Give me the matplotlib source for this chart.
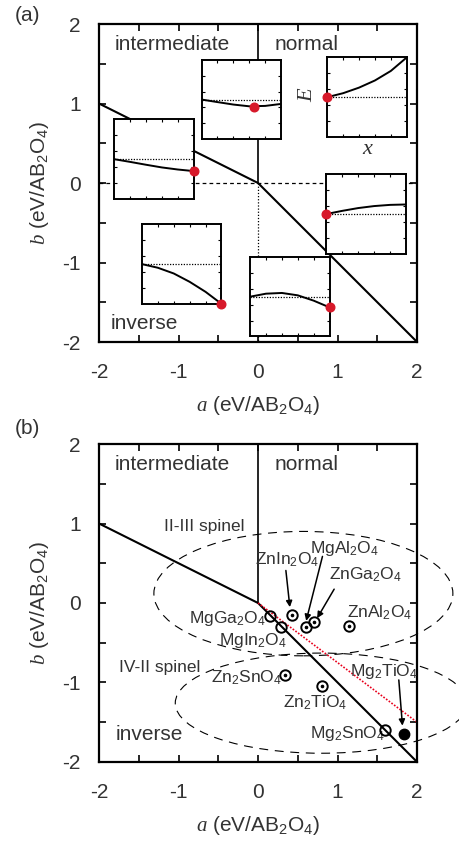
import matplotlib
matplotlib.use("Agg")
import matplotlib.pyplot as plt
from matplotlib.patches import Ellipse
from matplotlib.ticker import MultipleLocator

plt.rcParams['font.family'] = ['Liberation Sans', 'DejaVu Sans']
plt.rcParams['mathtext.fontset'] = 'custom'
plt.rcParams['mathtext.rm'] = 'Liberation Sans'
plt.rcParams['mathtext.it'] = 'Liberation Serif:italic'
plt.rcParams['mathtext.bf'] = 'Liberation Sans:bold'
plt.rcParams['axes.unicode_minus'] = False

TXT = '#333333'
RED = '#d7192a'

# ---------------- data ----------------
# phase boundary in (a, b) plane
boundary_a = [-2, 0, 2]
boundary_b = [1, 0, -2]
normal_line_a = [0, 0]
normal_line_b = [0, 2]
red_line_a = [0, 2]
red_line_b = [0, -1.5]

# insets in panel (a): lower-left corner (a, b), size 1x1
inset_a0 = [-0.71, 0.87, -1.81, 0.86, -1.46, -0.10]
inset_b0 = [0.55, 0.58, -0.20, -0.89, -1.52, -1.93]
inset_x = [0.0, 0.2, 0.4, 0.6, 0.8, 1.0]
inset_E1 = [0.50, 0.468, 0.437, 0.415, 0.420, 0.445]
inset_E2 = [0.50, 0.55, 0.62, 0.71, 0.83, 1.00]
inset_E3 = [0.50, 0.466, 0.430, 0.396, 0.370, 0.350]
inset_E4 = [0.50, 0.54, 0.575, 0.60, 0.615, 0.62]
inset_E5 = [0.50, 0.454, 0.382, 0.277, 0.151, 0.0]
inset_E6 = [0.50, 0.538, 0.547, 0.517, 0.450, 0.365]
inset_min_x = [0.66, 0.0, 1.0, 0.0, 1.0, 1.0]
inset_min_E = [0.412, 0.50, 0.350, 0.50, 0.0, 0.365]

# panel (b) compounds
compounds = ['MgGa$_2$O$_4$', 'MgIn$_2$O$_4$', 'ZnIn$_2$O$_4$', 'MgAl$_2$O$_4$',
             'ZnGa$_2$O$_4$', 'ZnAl$_2$O$_4$', 'Zn$_2$SnO$_4$', 'Zn$_2$TiO$_4$',
             'Mg$_2$SnO$_4$', 'Mg$_2$TiO$_4$']
comp_a = [0.149, 0.283, 0.425, 0.597, 0.701, 1.146, 0.341, 0.798, 1.602, 1.837]
comp_b = [-0.162, -0.304, -0.149, -0.300, -0.241, -0.288, -0.905, -1.039, -1.597, -1.647]
comp_style = ['open', 'open', 'dot', 'dot', 'dot', 'dot', 'dot', 'dot', 'open', 'filled']
label_a = [-0.383, -0.061, 0.366, 1.091, 1.355, 1.531, -0.145, 0.722, 1.125, 1.585]
label_b = [-0.19, -0.472, 0.544, 0.69, 0.355, -0.12, -0.946, -1.261, -1.639, -0.862]
arrow_from = {'ZnIn$_2$O$_4$': (0.35, 0.409), 'MgAl$_2$O$_4$': (0.81, 0.586),
              'ZnGa$_2$O$_4$': (0.957, 0.174), 'Mg$_2$TiO$_4$': (1.77, -0.968)}
arrow_to = {'ZnIn$_2$O$_4$': (0.40, -0.052), 'MgAl$_2$O$_4$': (0.605, -0.225),
            'ZnGa$_2$O$_4$': (0.743, -0.191), 'Mg$_2$TiO$_4$': (1.816, -1.543)}

# ellipses: centre, width, height
ell_center = [(0.57, 0.118), (0.794, -1.26)]
ell_width = [3.76, 3.67]
ell_height = [1.565, 1.26]
ell_labels = ['II-III spinel', 'IV-II spinel']
ell_label_pos = [(-0.68, 0.963), (-1.233, -0.808)]

fig = plt.figure(figsize=(4.59, 8.43), dpi=100)
axA = fig.add_axes([0.2157, 0.5943, 0.693, 0.3772])
axB = fig.add_axes([0.2157, 0.0961, 0.693, 0.3772])


def style_axes(ax):
    ax.set_xlim(-2, 2)
    ax.set_ylim(-2, 2)
    ax.xaxis.set_major_locator(MultipleLocator(1))
    ax.yaxis.set_major_locator(MultipleLocator(1))
    ax.xaxis.set_minor_locator(MultipleLocator(0.5))
    ax.yaxis.set_minor_locator(MultipleLocator(0.5))
    ax.tick_params(which='both', direction='in', top=True, right=True,
                   length=5, width=1.2, colors='black', labelcolor=TXT,
                   labelsize=15)
    ax.tick_params(axis='x', pad=15)
    ax.tick_params(axis='y', pad=13)
    for s in ax.spines.values():
        s.set_linewidth(1.6)
    ax.set_xlabel(r'$\mathit{a}$ (eV/AB$_2$O$_4$)', fontsize=15, color=TXT, labelpad=9)
    ax.set_ylabel(r'$\mathit{b}$ (eV/AB$_2$O$_4$)', fontsize=15, color=TXT, labelpad=8)
    ax.plot(boundary_a, boundary_b, color='black', lw=1.5, zorder=2)
    ax.plot(normal_line_a, normal_line_b, color='black', lw=1.2, zorder=2)
    ax.text(-1.078, 1.74, 'intermediate', fontsize=15, color=TXT, ha='center', va='center')
    ax.text(0.616, 1.74, 'normal', fontsize=15, color=TXT, ha='center', va='center')


# ---------------- panel (a) ----------------
style_axes(axA)
axA.plot([-2, 2], [0, 0], color='black', lw=0.9, ls=(0, (3, 2.5)), zorder=1)
axA.plot([0, 0], [0, -2], color='black', lw=0.9, ls=(0, (1, 1.5)), zorder=1)
axA.text(-1.434, -1.77, 'inverse', fontsize=15, color=TXT, ha='center', va='center')

curves = [inset_E1, inset_E2, inset_E3, inset_E4, inset_E5, inset_E6]
for i in range(6):
    ia = axA.inset_axes([inset_a0[i], inset_b0[i], 1.0, 1.0], transform=axA.transData)
    ia.set_xlim(0, 1)
    ia.set_ylim(0, 1)
    ia.set_xticks([0.2, 0.4, 0.6, 0.8])
    ia.set_yticks([0.2, 0.4, 0.6, 0.8])
    ia.tick_params(direction='in', length=2.2, width=0.8, top=True, right=True,
                   labelbottom=False, labelleft=False)
    for s in ia.spines.values():
        s.set_linewidth(1.4)
    ia.axhline(curves[i][0], color='black', lw=0.9, ls=(0, (1, 1.2)))
    ia.plot(inset_x, curves[i], color='black', lw=1.4)
    ia.plot(inset_min_x[i], inset_min_E[i], 'o', color=RED, ms=6.2,
            mec=RED, clip_on=False, zorder=10)

axA.text(0.62, 1.10, 'E', fontsize=16, family='Liberation Serif', style='italic',
         rotation=90, ha='center', va='center', color=TXT, zorder=20)
axA.text(1.367, 0.42, 'x', fontsize=16, family='Liberation Serif', style='italic',
         ha='center', va='center', color=TXT, zorder=20)
fig.text(0.033, 0.993, '(a)', fontsize=15, color=TXT, ha='left', va='top')

# ---------------- panel (b) ----------------
style_axes(axB)
axB.plot(red_line_a, red_line_b, color='#e8001c', lw=1.2, ls=(0, (1, 1)), zorder=2)
for c, w, h in zip(ell_center, ell_width, ell_height):
    e = Ellipse(c, w, h, fill=False, ec='black', lw=0.8, ls=(0, (8, 6)),
                clip_on=False, zorder=1)
    axB.add_patch(e)
for lab, pos in zip(ell_labels, ell_label_pos):
    axB.text(pos[0], pos[1], lab, fontsize=12.5, color=TXT, ha='center', va='center')
axB.text(-1.371, -1.648, 'inverse', fontsize=15, color=TXT, ha='center', va='center')

for name, a, b, st, la, lb in zip(compounds, comp_a, comp_b, comp_style, label_a, label_b):
    if st == 'filled':
        axB.plot(a, b, 'o', color='black', ms=7.5, zorder=5, clip_on=False)
    else:
        axB.plot(a, b, 'o', mfc='none', mec='black', mew=1.4, ms=7.5, zorder=5)
        if st == 'dot':
            axB.plot(a, b, 'o', color='black', ms=1.6, zorder=6)
    axB.text(la, lb, name, fontsize=12.5, color=TXT, ha='center', va='center')
    if name in arrow_from:
        axB.annotate('', xy=arrow_to[name], xytext=arrow_from[name],
                     arrowprops=dict(arrowstyle='-|>', color='black', lw=1.1,
                                     mutation_scale=9, shrinkA=0, shrinkB=0))

fig.text(0.033, 0.503, '(b)', fontsize=15, color=TXT, ha='left', va='top')

fig.savefig('out.png', dpi=100)
